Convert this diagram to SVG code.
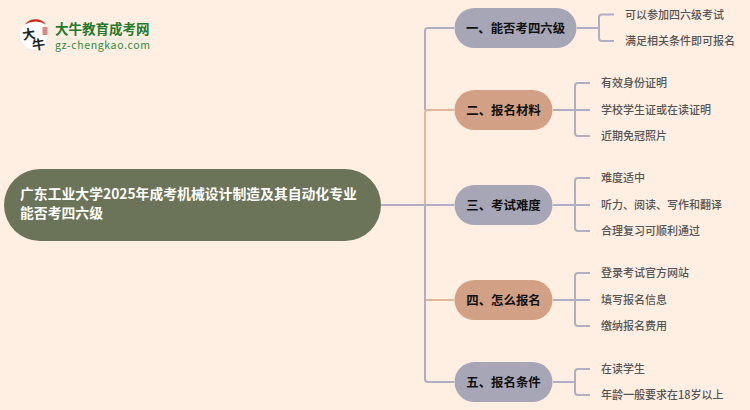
<svg xmlns="http://www.w3.org/2000/svg" width="750" height="410" viewBox="0 0 750 410">
<style>
text{font-family:"Noto Sans CJK SC","Noto Sans",sans-serif}
.c{fill:none;stroke-width:2;stroke-linejoin:round}
.g{stroke:#b0aec4}
.o{stroke:#e2b59c}
.t{font-size:11px;fill:#555;font-weight:500}
.n{font-size:12.4px;font-weight:700;fill:#111;text-anchor:middle}
.ng{fill:#a6a6b6}
.no{fill:#d2a084}
.r{font-size:13.83px;font-weight:700;fill:#fff}
</style>
<rect width="750" height="410" fill="#ffefe2"/>
<g id="connectors">
<path class="c g" d="M381 205H454"/>
<path class="c g" d="M454 28H428Q425 28 425 31V110"/>
<path class="c g" d="M425 205V379Q425 382 428 382H454"/>
<path class="c o" d="M454 110H428Q425 110 425 113V204"/>
<path class="c o" d="M454 300H426"/>
<path class="c g" d="M577 28H599M614 14.500H602Q599 14.500 599 17.500V38Q599 41 602 41H614"/>
<path class="c g" d="M553 110H590M590 83H578Q575 83 575 86V133Q575 136 578 136H590"/>
<path class="c g" d="M553 205H590M590 178H578Q575 178 575 181V228Q575 231 578 231H590"/>
<path class="c g" d="M553 300H590M590 273H578Q575 273 575 276V323Q575 326 578 326H590"/>
<path class="c g" d="M553 382H575M590 369H578Q575 369 575 372V392Q575 395 578 395H590"/>
</g>
<g id="logo">
<path d="M34 20.500a14.500 14.500 0 0 1 4 28.400l8 4.600-12-3.500a14.500 14.500 0 0 1 0-29.500z" fill="#fff" stroke="#e8e4dc" stroke-width=".6"/>
<path d="M25 24.500a13 13 0 0 1 21 0a20 20 0 0 0-21 0z" fill="#c8281e"/>
<text x="22.500" y="39" font-size="13" font-weight="700" fill="#222" transform="rotate(-8 29 35)">大</text>
<text x="32" y="49.500" font-size="13" font-weight="700" fill="#222" transform="rotate(-8 38 44)">牛</text>
<rect x="42.500" y="27" width="5" height="8" fill="#d98a80"/>
<text x="55" y="33.500" font-size="13.500" font-weight="700" fill="#1f7a2e">大牛教育成考网</text>
<rect x="55" y="38.500" width="95" height="1" fill="#dfe3d2"/>
<text x="55" y="49" font-size="10.500" font-family="DejaVu Sans" fill="#2a8a3a" textLength="95">gz-chengkao.com</text>
</g>
<g id="root">
<rect x="4" y="169" width="377" height="72" rx="36" fill="#6b7359"/>
<text class="r" x="20" y="199">广东工业大学2025年成考机械设计制造及其自动化专业</text>
<text class="r" x="20" y="218">能否考四六级</text>
</g>
<g id="n1"><rect class="ng" x="454.500" y="8" width="122" height="40" rx="20"/><text class="n" x="515.500" y="32.500">一、能否考四六级</text></g>
<g id="n2"><rect class="no" x="454.500" y="90" width="98" height="40" rx="20"/><text class="n" x="503.500" y="114.500">二、报名材料</text></g>
<g id="n3"><rect class="ng" x="454.500" y="185" width="98" height="40" rx="20"/><text class="n" x="503.500" y="209.500">三、考试难度</text></g>
<g id="n4"><rect class="no" x="454.500" y="280" width="98" height="40" rx="20"/><text class="n" x="503.500" y="304.500">四、怎么报名</text></g>
<g id="n5"><rect class="ng" x="454.500" y="362" width="98" height="40" rx="20"/><text class="n" x="503.500" y="386.500">五、报名条件</text></g>
<g id="l1"><text class="t" x="625" y="18.500">可以参加四六级考试</text></g>
<g id="l2"><text class="t" x="625" y="45">满足相关条件即可报名</text></g>
<g id="l3"><text class="t" x="601" y="87">有效身份证明</text></g>
<g id="l4"><text class="t" x="601" y="114">学校学生证或在读证明</text></g>
<g id="l5"><text class="t" x="601" y="140">近期免冠照片</text></g>
<g id="l6"><text class="t" x="601" y="182">难度适中</text></g>
<g id="l7"><text class="t" x="601" y="209">听力、阅读、写作和翻译</text></g>
<g id="l8"><text class="t" x="601" y="235">合理复习可顺利通过</text></g>
<g id="l9"><text class="t" x="601" y="277">登录考试官方网站</text></g>
<g id="l10"><text class="t" x="601" y="304">填写报名信息</text></g>
<g id="l11"><text class="t" x="601" y="330">缴纳报名费用</text></g>
<g id="l12"><text class="t" x="601" y="373">在读学生</text></g>
<g id="l13"><text class="t" x="601" y="399">年龄一般要求在18岁以上</text></g>
</svg>
